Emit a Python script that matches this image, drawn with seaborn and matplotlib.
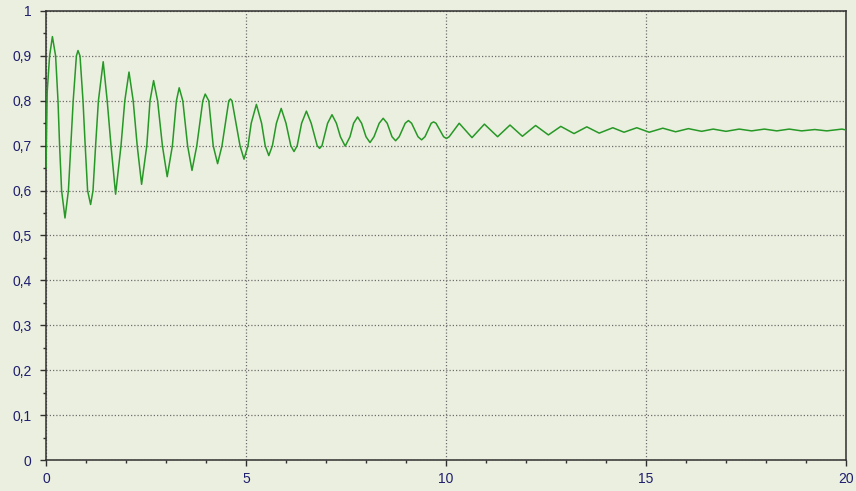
"""Damped oscillation settling around 0.73, redrawn from readings of the
peaks, troughs and grid-level crossings of the reference curve."""
import pandas as pd
import matplotlib
matplotlib.use("Agg")
import matplotlib.pyplot as plt
from matplotlib.ticker import MultipleLocator, FuncFormatter
import seaborn as sns

# values
start_t = [0.0, 0.03]
start_v = [0.65, 0.82]
peak_t = [0.16, 0.80, 1.43, 2.075, 2.69, 3.33, 3.98, 4.61, 5.26, 5.88, 6.51, 7.15,
          7.79, 8.43, 9.06, 9.69, 10.33, 10.96, 11.60, 12.24, 12.87, 13.52, 14.17,
          14.77, 15.42, 16.06, 16.68, 17.33, 17.96, 18.58, 19.22, 19.90]
peak_v = [0.943, 0.912, 0.887, 0.864, 0.845, 0.829, 0.815, 0.804, 0.792, 0.783,
          0.777, 0.769, 0.764, 0.761, 0.756, 0.753, 0.750, 0.748, 0.746, 0.745,
          0.743, 0.742, 0.740, 0.740, 0.739, 0.738, 0.737, 0.737, 0.737, 0.737,
          0.736, 0.737]
trough_t = [0.475, 1.115, 1.74, 2.39, 3.03, 3.65, 4.29, 4.95, 5.57, 6.20, 6.84, 7.48,
            8.10, 8.74, 9.39, 10.01, 10.65, 11.29, 11.91, 12.56, 13.20, 13.83,
            14.45, 15.08, 15.74, 16.39, 17.00, 17.64, 18.27, 18.89, 19.52]
trough_v = [0.539, 0.569, 0.592, 0.614, 0.631, 0.645, 0.660, 0.670, 0.678, 0.687,
            0.694, 0.699, 0.707, 0.711, 0.713, 0.716, 0.718, 0.720, 0.721, 0.724,
            0.727, 0.728, 0.730, 0.730, 0.731, 0.732, 0.732, 0.733, 0.733, 0.733,
            0.733]
# times where the curve crosses a given level
cross_90_t = [0.09, 0.24, 0.76, 0.85]
cross_80_t = [0.30, 0.68, 0.925, 1.31, 1.53, 1.97, 2.18, 2.60, 2.79, 3.26, 3.42,
              3.92, 4.07, 4.57, 4.65]
cross_75_t = [5.13, 5.39, 5.76, 6.00, 6.39, 6.63, 7.04, 7.26, 7.69, 7.89, 8.33,
              8.53, 8.98, 9.14, 9.63, 9.75]
cross_72_t = [7.36, 7.60, 8.00, 8.20, 8.65, 8.83, 9.30, 9.475, 9.94, 10.08]
cross_70_t = [0.34, 0.62, 0.98, 1.24, 1.625, 1.875, 2.28, 2.52, 2.91, 3.16, 3.54,
              3.77, 4.18, 4.40, 4.85, 5.05, 5.48, 5.66, 6.12, 6.28, 6.78, 6.90]
cross_60_t = [0.39, 0.56, 1.04, 1.175]
end_t = [20.0]
end_v = [0.735]

BG = "#ebefdf"
LINE = "#269826"
LABEL = "#1e1e6e"
AXIS = "#303030"

sns.set_theme(style="white")
plt.rcParams["font.family"] = ["Liberation Sans", "DejaVu Sans"]

crossings = [(cross_90_t, 0.9), (cross_80_t, 0.8), (cross_75_t, 0.75),
             (cross_72_t, 0.72), (cross_70_t, 0.7), (cross_60_t, 0.6)]
parts = [pd.DataFrame({"t": start_t, "v": start_v}),
         pd.DataFrame({"t": peak_t, "v": peak_v}),
         pd.DataFrame({"t": trough_t, "v": trough_v}),
         pd.DataFrame({"t": end_t, "v": end_v})]
parts += [pd.DataFrame({"t": ts, "v": lvl}) for ts, lvl in crossings]
df = pd.concat(parts, ignore_index=True).sort_values("t")

fig = plt.figure(figsize=(8.56, 4.91), dpi=100, facecolor=BG)
ax = fig.add_axes([46 / 856, 31 / 491, 800 / 856, 449 / 491])
ax.set_facecolor(BG)

sns.lineplot(data=df, x="t", y="v", color=LINE, linewidth=1.1, estimator=None,
             sort=True, ax=ax, zorder=3)

ax.set_xlim(0, 20)
ax.set_ylim(0, 1)
ax.xaxis.set_major_locator(MultipleLocator(5))
ax.xaxis.set_minor_locator(MultipleLocator(1))
ax.yaxis.set_major_locator(MultipleLocator(0.1))
ax.yaxis.set_minor_locator(MultipleLocator(0.05))
fmt = FuncFormatter(lambda v, _: format(round(v, 1), "g").replace(".", ","))
ax.xaxis.set_major_formatter(fmt)
ax.yaxis.set_major_formatter(fmt)

ax.tick_params(axis="both", which="major", direction="out", length=4.5, width=1,
               color=AXIS, labelsize=10, labelcolor=LABEL)
ax.tick_params(axis="both", which="minor", direction="out", length=2.5, width=1,
               color=AXIS)
ax.tick_params(axis="y", which="major", pad=6)
ax.tick_params(axis="x", which="major", pad=4)
ax.tick_params(bottom=True, left=True, top=False, right=False, which="both")

ax.grid(True, which="major", linestyle=(0, (1, 1.6)), linewidth=0.9, color="#6e6e6e")
for s in ax.spines.values():
    s.set_visible(True)
    s.set_color(AXIS)
    s.set_linewidth(1.1)

ax.set_xlabel("")
ax.set_ylabel("")

fig.savefig("out.png", dpi=100, facecolor=BG)
